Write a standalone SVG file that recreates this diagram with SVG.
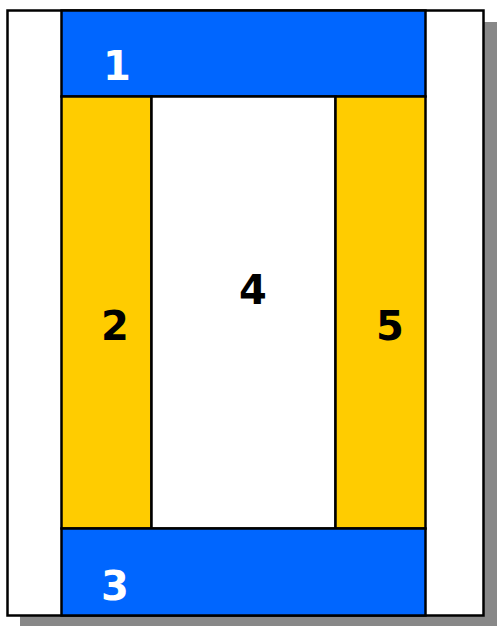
<svg xmlns="http://www.w3.org/2000/svg" width="503" height="632" viewBox="0 0 503 632">
<style>
.b{stroke:#000;stroke-width:2.5}
.t{font-family:"DejaVu Sans",sans-serif;font-weight:bold;font-size:40px;text-anchor:middle}
</style>
<rect x="0" y="0" width="503" height="632" fill="#fff"/>
<g id="shadow"><rect x="20" y="22" width="477" height="604" fill="#888"/></g>
<g id="page"><rect x="7.5" y="10.5" width="476" height="605" fill="#fff" class="b"/></g>
<g id="n1"><rect x="61.5" y="10.5" width="364" height="86" fill="#0066ff" class="b"/><text x="117" y="80" class="t" fill="#fff">1</text></g>
<g id="n2"><rect x="61.5" y="96.5" width="90" height="432" fill="#ffcc00" class="b"/><text x="115" y="340" class="t" fill="#000">2</text></g>
<g id="n4"><rect x="151.5" y="96.5" width="184" height="432" fill="#fff" class="b"/><text x="253" y="304" class="t" fill="#000">4</text></g>
<g id="n5"><rect x="335.5" y="96.5" width="90" height="432" fill="#ffcc00" class="b"/><text x="390" y="340" class="t" fill="#000">5</text></g>
<g id="n3"><rect x="61.5" y="528.5" width="364" height="87" fill="#0066ff" class="b"/><text x="115" y="600" class="t" fill="#fff">3</text></g>
<g id="connectors"></g>
</svg>
